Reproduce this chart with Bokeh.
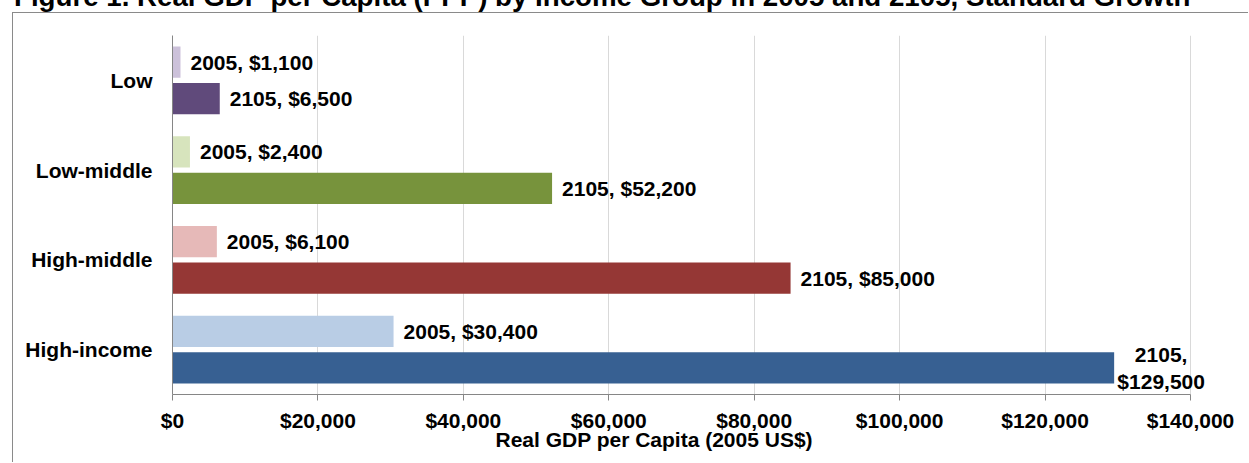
from bokeh.plotting import figure
from bokeh.layouts import column
from bokeh.models import (FactorRange, Range1d, SingleIntervalTicker, NumeralTickFormatter,
                          ColumnDataSource, Div, Title)
from bokeh.transform import dodge
from bokeh.core.properties import value
from bokeh.embed import file_html
from bokeh.resources import INLINE

# ---- data ----
categories = ["Low", "Low-middle", "High-middle", "High-income"]
gdp_2005 = [1100, 2400, 6100, 30400]
gdp_2105 = [6500, 52200, 85000, 129500]
colors_2005 = ["#ccc1da", "#d7e4bd", "#e6b9b8", "#b9cde5"]
colors_2105 = ["#604a7b", "#77933c", "#953735", "#376092"]
x_ticks_step = 20000
x_max = 140000
title_text = "Figure 1. Real GDP per Capita (PPP) by Income Group in 2005 and 2105, Standard Growth"
x_axis_label = "Real GDP per Capita (2005 US$)"

FONT = "Liberation Sans"
FS = "21px"

# frame extends a little past the last tick so the end label is not clipped
x_end = x_max * 1067 / 1018

p = figure(width=1236, height=450, output_backend="svg", toolbar_location=None,
           y_range=FactorRange(factors=categories[::-1], range_padding=0),
           x_range=Range1d(0, x_end),
           min_border_left=159, min_border_right=10, min_border_top=22, min_border_bottom=69)
p.outline_line_color = None
p.background_fill_color = "white"
p.border_fill_color = "white"
p.margin = (0, 0, 0, 12)
p.styles = {"border-top": "1px solid #8a8a8a", "border-left": "1px solid #8a8a8a"}

src05 = ColumnDataSource(dict(cat=categories, v=gdp_2005, c=colors_2005,
                              lab=[f"2005, ${v:,}" for v in gdp_2005]))
p.hbar(y=dodge("cat", 0.203, range=p.y_range), left=0, right="v", height=0.35,
       fill_color="c", line_color=None, source=src05)

src05b = ColumnDataSource(dict(cat=categories, v=gdp_2105, c=colors_2105))
p.hbar(y=dodge("cat", -0.203, range=p.y_range), left=0, right="v", height=0.35,
       fill_color="c", line_color=None, source=src05b)

p.text(x="v", y=dodge("cat", 0.203, range=p.y_range), text="lab", source=src05,
       x_offset=10, text_baseline="middle", text_align="left",
       text_font=value(FONT), text_font_style="bold", text_font_size=FS, text_color="black")

single = [i for i, v in enumerate(gdp_2105) if v < 120000]
multi = [i for i, v in enumerate(gdp_2105) if v >= 120000]
srcA = ColumnDataSource(dict(cat=[categories[i] for i in single], v=[gdp_2105[i] for i in single],
                             lab=[f"2105, ${gdp_2105[i]:,}" for i in single]))
p.text(x="v", y=dodge("cat", -0.203, range=p.y_range), text="lab", source=srcA,
       x_offset=10, text_baseline="middle", text_align="left",
       text_font=value(FONT), text_font_style="bold", text_font_size=FS, text_color="black")

srcB = ColumnDataSource(dict(cat=[categories[i] for i in multi], v=[gdp_2105[i] for i in multi],
                             lab=[f"2105,\n${gdp_2105[i]:,}" for i in multi]))
p.text(x="v", y=dodge("cat", -0.203, range=p.y_range), text="lab", source=srcB,
       x_offset=47, text_baseline="middle", text_align="center", text_line_height=1.17,
       text_font=value(FONT), text_font_style="bold", text_font_size=FS, text_color="black")

# axes
p.xaxis.ticker = SingleIntervalTicker(interval=x_ticks_step)
p.xaxis.formatter = NumeralTickFormatter(format="$0,0")
p.xaxis.bounds = (0, x_max)
for ax in (p.xaxis[0], p.yaxis[0]):
    ax.axis_line_color = "#868686"
    ax.major_tick_line_color = "#868686"
    ax.minor_tick_line_color = None
    ax.major_label_text_font = FONT
    ax.major_label_text_font_style = "bold"
    ax.major_label_text_font_size = FS
    ax.major_label_text_color = "black"
p.xaxis.major_tick_in = 0
p.xaxis.major_tick_out = 6
p.xaxis.major_label_standoff = 8
p.yaxis.major_tick_in = 0
p.yaxis.major_tick_out = 0
p.yaxis.major_label_standoff = 20

# x-axis title
p.add_layout(Title(text=x_axis_label, align="left", offset=323, vertical_align="top",
                   standoff=-14, text_font=FONT, text_font_style="bold", text_font_size=FS,
                   text_color="black"), "below")

p.ygrid.visible = False
p.xgrid.grid_line_color = "#d9d9d9"
p.xgrid.bounds = (0, x_max)

# chart title (cropped at the top edge as in the source image)
title = Div(text=(f'<div style="position:relative; top:-18px; left:14px; white-space:nowrap; '
                  f'font-family:\'{FONT}\'; font-weight:bold; font-size:27.7px; line-height:30px; '
                  f'color:black;">{title_text}</div>'),
            width=1249, height=12, margin=(0, 0, 0, 0), styles={"overflow": "hidden"})

root = column(title, p, spacing=0, margin=(0, 0, 0, 0))
open("out.html", "w").write(file_html(root, INLINE))
